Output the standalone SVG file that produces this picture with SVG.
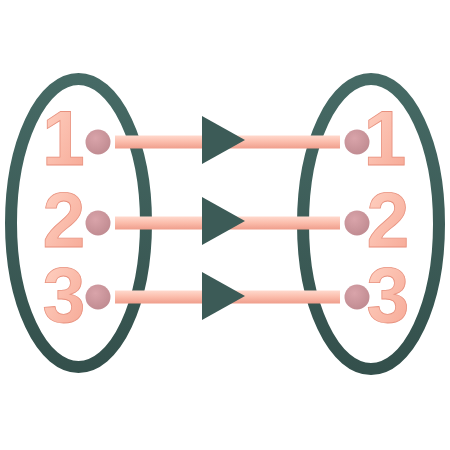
<svg xmlns="http://www.w3.org/2000/svg" width="450" height="450" viewBox="0 0 450 450">
<defs>
<linearGradient id="lineG" x1="0" y1="0" x2="0" y2="1">
<stop offset="0" stop-color="#ffd9cd"/>
<stop offset="0.5" stop-color="#fbbcab"/>
<stop offset="1" stop-color="#ef9e8c"/>
</linearGradient>
<linearGradient id="numG" x1="0" y1="0" x2="1" y2="1">
<stop offset="0" stop-color="#ffd3c4"/>
<stop offset="1" stop-color="#f6a794"/>
</linearGradient>
<radialGradient id="dotG" cx="0.4" cy="0.35" r="0.7">
<stop offset="0" stop-color="#d9a4aa"/>
<stop offset="1" stop-color="#bf8a90"/>
</radialGradient>
<linearGradient id="ellG" x1="0" y1="0" x2="0" y2="1">
<stop offset="0" stop-color="#466a65"/>
<stop offset="1" stop-color="#34504c"/>
</linearGradient>
</defs>
<style>
.ell{fill:none;stroke:url(#ellG);stroke-width:12}
.ln{fill:url(#lineG)}
.dot{fill:url(#dotG)}
.arr{fill:#3c5b57}
.num{font-family:"Liberation Sans",Arial,sans-serif;font-weight:bold;font-size:77px;fill:url(#numG);stroke:#e8917e;stroke-width:0.8}
</style>
<g id="set-left">
<ellipse class="ell" cx="78.5" cy="223" rx="67.5" ry="144"/>
<text class="num" x="63.5" y="165" text-anchor="middle">1</text>
<text class="num" x="64" y="247" text-anchor="middle">2</text>
<text class="num" x="64" y="322" text-anchor="middle">3</text>
</g>
<g id="set-right">
<ellipse class="ell" cx="371" cy="224" rx="68" ry="145"/>
<text class="num" x="385" y="165" text-anchor="middle">1</text>
<text class="num" x="388" y="247" text-anchor="middle">2</text>
<text class="num" x="388" y="322" text-anchor="middle">3</text>
</g>
<g id="connectors">
<rect class="ln" x="115" y="135.5" width="225" height="13"/>
<rect class="ln" x="115" y="216.5" width="225" height="13"/>
<rect class="ln" x="115" y="290.5" width="225" height="13"/>
<polygon class="arr" points="202,116 202,164 245,140"/>
<polygon class="arr" points="202,197 202,245 245,221"/>
<polygon class="arr" points="202,272 202,320 245,296"/>
</g>
<g id="dots">
<circle class="dot" cx="98" cy="142" r="12.5"/>
<circle class="dot" cx="98" cy="223" r="12.5"/>
<circle class="dot" cx="98" cy="297" r="12.5"/>
<circle class="dot" cx="357" cy="142" r="12.5"/>
<circle class="dot" cx="357" cy="223" r="12.5"/>
<circle class="dot" cx="357" cy="297" r="12.5"/>
</g>
</svg>
